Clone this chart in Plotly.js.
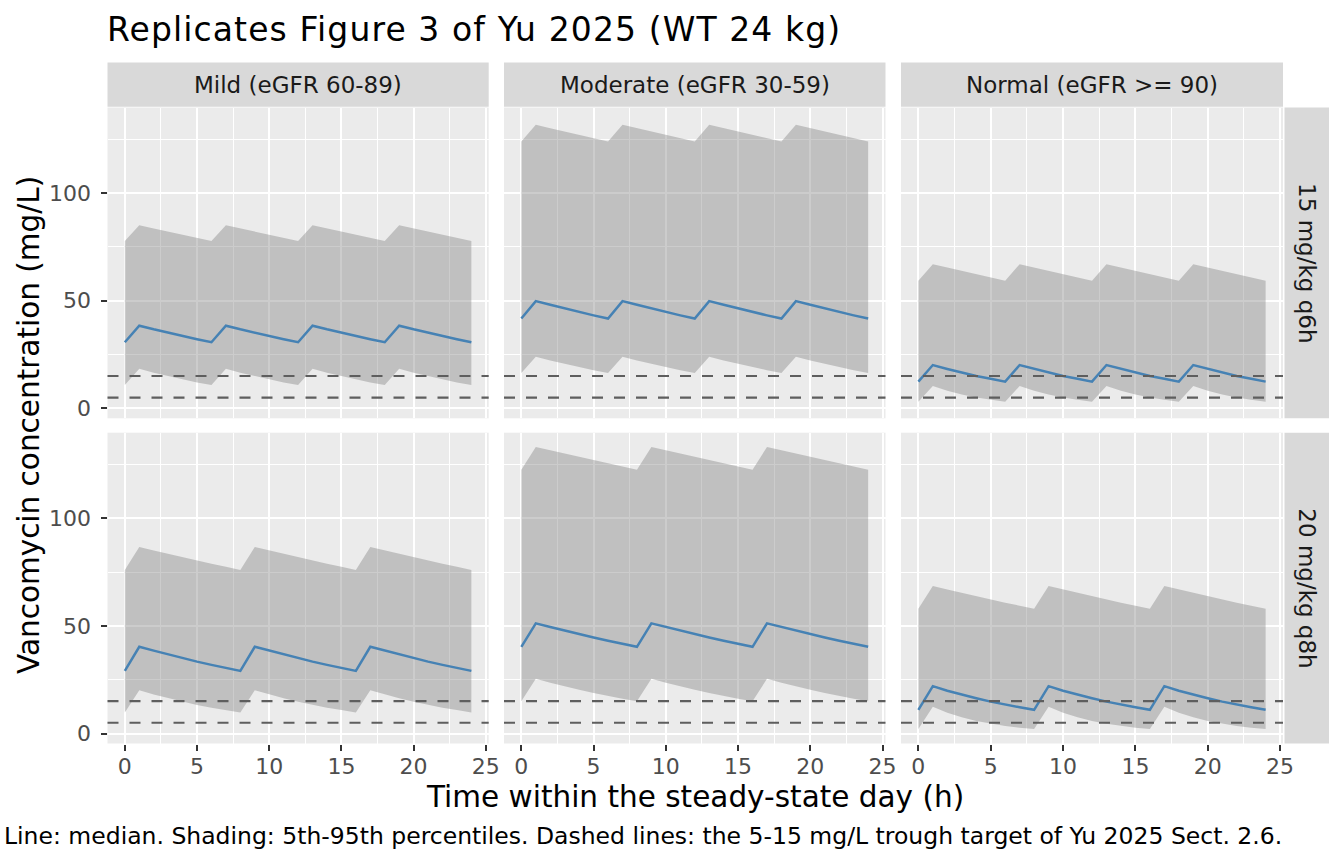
<!DOCTYPE html>
<html>
<head>
<meta charset="utf-8">
<script src="https://cdn.plot.ly/plotly-3.0.1.min.js"></script>
<style>
  html, body { margin: 0; padding: 0; background: #fff; }
  #myDiv { width: 1344px; height: 864px; }
  #myDiv .gtitle { letter-spacing: 1.1px; }
</style>
</head>
<body>
<div id="myDiv"></div>
<script>
// time grid (h)
var timeH = [0, 1, 2, 3, 4, 5, 6, 7, 8, 9, 10, 11, 12, 13, 14, 15, 16, 17, 18, 19, 20, 21, 22, 23, 24];

var renalGroups = ['Mild (eGFR 60-89)', 'Moderate (eGFR 30-59)', 'Normal (eGFR >= 90)'];
var regimens = ['15 mg/kg q6h', '20 mg/kg q8h'];
var troughTarget = [5, 15];

// 15 mg/kg q6h
var mildQ6Med = [30.7, 38.4, 36.7, 35.1, 33.6, 32.1, 30.7, 38.4, 36.7, 35.1, 33.6, 32.1, 30.7, 38.4, 36.7, 35.1, 33.6, 32.1, 30.7, 38.4, 36.7, 35.1, 33.6, 32.1, 30.7];
var mildQ6Hi = [77.7, 85.1, 83.6, 82.1, 80.6, 79.2, 77.7, 85.1, 83.6, 82.1, 80.6, 79.2, 77.7, 85.1, 83.6, 82.1, 80.6, 79.2, 77.7, 85.1, 83.6, 82.1, 80.6, 79.2, 77.7];
var mildQ6Lo = [10.8, 18.4, 16.5, 14.9, 13.4, 12.0, 10.8, 18.4, 16.5, 14.9, 13.4, 12.0, 10.8, 18.4, 16.5, 14.9, 13.4, 12.0, 10.8, 18.4, 16.5, 14.9, 13.4, 12.0, 10.8];

var modQ6Med = [41.7, 49.8, 48.1, 46.4, 44.8, 43.2, 41.7, 49.8, 48.1, 46.4, 44.8, 43.2, 41.7, 49.8, 48.1, 46.4, 44.8, 43.2, 41.7, 49.8, 48.1, 46.4, 44.8, 43.2, 41.7];
var modQ6Hi = [124.0, 131.8, 130.2, 128.6, 127.0, 125.5, 124.0, 131.8, 130.2, 128.6, 127.0, 125.5, 124.0, 131.8, 130.2, 128.6, 127.0, 125.5, 124.0, 131.8, 130.2, 128.6, 127.0, 125.5, 124.0];
var modQ6Lo = [16.4, 23.9, 22.2, 20.6, 19.1, 17.7, 16.4, 23.9, 22.2, 20.6, 19.1, 17.7, 16.4, 23.9, 22.2, 20.6, 19.1, 17.7, 16.4, 23.9, 22.2, 20.6, 19.1, 17.7, 16.4];

var normQ6Med = [12.4, 20.1, 18.3, 16.6, 15.0, 13.7, 12.4, 20.1, 18.3, 16.6, 15.0, 13.7, 12.4, 20.1, 18.3, 16.6, 15.0, 13.7, 12.4, 20.1, 18.3, 16.6, 15.0, 13.7, 12.4];
var normQ6Hi = [59.3, 67.0, 65.4, 63.8, 62.3, 60.8, 59.3, 67.0, 65.4, 63.8, 62.3, 60.8, 59.3, 67.0, 65.4, 63.8, 62.3, 60.8, 59.3, 67.0, 65.4, 63.8, 62.3, 60.8, 59.3];
var normQ6Lo = [3.1, 10.4, 8.2, 6.4, 5.0, 4.0, 3.1, 10.4, 8.2, 6.4, 5.0, 4.0, 3.1, 10.4, 8.2, 6.4, 5.0, 4.0, 3.1, 10.4, 8.2, 6.4, 5.0, 4.0, 3.1];

// 20 mg/kg q8h
var mildQ8Med = [29.1, 40.3, 38.5, 36.7, 35.0, 33.4, 31.9, 30.5, 29.1, 40.3, 38.5, 36.7, 35.0, 33.4, 31.9, 30.5, 29.1, 40.3, 38.5, 36.7, 35.0, 33.4, 31.9, 30.5, 29.1];
var mildQ8Hi = [76.0, 86.7, 85.1, 83.5, 82.0, 80.4, 78.9, 77.5, 76.0, 86.7, 85.1, 83.5, 82.0, 80.4, 78.9, 77.5, 76.0, 86.7, 85.1, 83.5, 82.0, 80.4, 78.9, 77.5, 76.0];
var mildQ8Lo = [9.8, 20.1, 18.1, 16.4, 14.8, 13.3, 12.0, 10.9, 9.8, 20.1, 18.1, 16.4, 14.8, 13.3, 12.0, 10.9, 9.8, 20.1, 18.1, 16.4, 14.8, 13.3, 12.0, 10.9, 9.8];

var modQ8Med = [40.3, 51.2, 49.5, 47.8, 46.2, 44.6, 43.1, 41.7, 40.3, 51.2, 49.5, 47.8, 46.2, 44.6, 43.1, 41.7, 40.3, 51.2, 49.5, 47.8, 46.2, 44.6, 43.1, 41.7, 40.3];
var modQ8Hi = [122.6, 133.2, 131.6, 130.1, 128.6, 127.1, 125.6, 124.1, 122.6, 133.2, 131.6, 130.1, 128.6, 127.1, 125.6, 124.1, 122.6, 133.2, 131.6, 130.1, 128.6, 127.1, 125.6, 124.1, 122.6];
var modQ8Lo = [15.0, 25.4, 23.6, 21.8, 20.3, 18.8, 17.4, 16.2, 15.0, 25.4, 23.6, 21.8, 20.3, 18.8, 17.4, 16.2, 15.0, 25.4, 23.6, 21.8, 20.3, 18.8, 17.4, 16.2, 15.0];

var normQ8Med = [11.0, 22.0, 19.9, 18.0, 16.4, 14.8, 13.4, 12.2, 11.0, 22.0, 19.9, 18.0, 16.4, 14.8, 13.4, 12.2, 11.0, 22.0, 19.9, 18.0, 16.4, 14.8, 13.4, 12.2, 11.0];
var normQ8Hi = [58.0, 68.5, 66.9, 65.3, 63.8, 62.3, 60.8, 59.4, 58.0, 68.5, 66.9, 65.3, 63.8, 62.3, 60.8, 59.4, 58.0, 68.5, 66.9, 65.3, 63.8, 62.3, 60.8, 59.4, 58.0];
var normQ8Lo = [2.1, 12.4, 9.6, 7.5, 5.8, 4.5, 3.5, 2.7, 2.1, 12.4, 9.6, 7.5, 5.8, 4.5, 3.5, 2.7, 2.1, 12.4, 9.6, 7.5, 5.8, 4.5, 3.5, 2.7, 2.1];

// panels in facet order: row = regimen, col = renal group
var panels = [
    {med: mildQ6Med, hi: mildQ6Hi, lo: mildQ6Lo},
    {med: modQ6Med, hi: modQ6Hi, lo: modQ6Lo},
    {med: normQ6Med, hi: normQ6Hi, lo: normQ6Lo},
    {med: mildQ8Med, hi: mildQ8Hi, lo: mildQ8Lo},
    {med: modQ8Med, hi: modQ8Hi, lo: modQ8Lo},
    {med: normQ8Med, hi: normQ8Hi, lo: normQ8Lo}
];

var W = 1344, H = 864;
var colPx = [[107.5, 488.7], [504, 885.5], [901, 1283]];
var rowPx = [[107.5, 418.3], [432.7, 743.5]];
var font = "DejaVu Sans, sans-serif";

var data = [];
var layout = {
    width: W,
    height: H,
    margin: {l: 0, r: 0, t: 0, b: 0},
    paper_bgcolor: 'white',
    plot_bgcolor: '#EBEBEB',
    showlegend: false,
    font: {family: font, color: '#4D4D4D'},
    title: {
        text: 'Replicates Figure 3 of Yu 2025 (WT 24 kg)',
        x: 107 / W, xanchor: 'left', xref: 'container',
        y: 1 - 29 / H, yanchor: 'middle', yref: 'container',
        font: {family: font, size: 33, color: '#000'}
    },
    shapes: [],
    annotations: []
};

panels.forEach(function (p, i) {
    var r = Math.floor(i / 3), c = i % 3;
    var n = i + 1;
    var xa = 'x' + (n === 1 ? '' : n), ya = 'y' + (n === 1 ? '' : n);

    data.push({x: timeH, y: p.lo, xaxis: xa, yaxis: ya, type: 'scatter', mode: 'lines',
        line: {width: 0}, hoverinfo: 'skip'});
    data.push({x: timeH, y: p.hi, xaxis: xa, yaxis: ya, type: 'scatter', mode: 'lines',
        line: {width: 0}, fill: 'tonexty', fillcolor: 'rgba(127,127,127,0.4)', hoverinfo: 'skip'});
    data.push({x: timeH, y: p.med, xaxis: xa, yaxis: ya, type: 'scatter', mode: 'lines',
        line: {color: '#4682B4', width: 2.5}});

    layout['xaxis' + (n === 1 ? '' : n)] = {
        domain: [colPx[c][0] / W, colPx[c][1] / W],
        anchor: ya,
        range: [-1.2, 25.2],
        tick0: 0, dtick: 5,
        showgrid: true, gridcolor: '#fff', gridwidth: 2,
        minor: {dtick: 2.5, showgrid: true, gridcolor: '#fff', gridwidth: 1},
        zeroline: false,
        showticklabels: r === 1,
        ticks: r === 1 ? 'outside' : '',
        ticklen: 6, tickwidth: 2, tickcolor: '#333333',
        ticklabelstandoff: -3,
        tickfont: {size: 22, color: '#4D4D4D'},
        fixedrange: true
    };
    layout['yaxis' + (n === 1 ? '' : n)] = {
        domain: [1 - rowPx[r][1] / H, 1 - rowPx[r][0] / H],
        anchor: xa,
        range: [-4.65, 139.8],
        tick0: 0, dtick: 50,
        showgrid: true, gridcolor: '#fff', gridwidth: 2,
        minor: {dtick: 25, showgrid: true, gridcolor: '#fff', gridwidth: 1},
        zeroline: false,
        showticklabels: c === 0,
        ticks: c === 0 ? 'outside' : '',
        ticklen: 6, tickwidth: 2, tickcolor: '#333333',
        ticklabelstandoff: 5,
        tickfont: {size: 22, color: '#4D4D4D'},
        fixedrange: true
    };

    // trough target lines
    troughTarget.forEach(function (v) {
        layout.shapes.push({type: 'line', xref: xa + ' domain', yref: ya,
            x0: 0, x1: 1, y0: v, y1: v,
            line: {color: '#5E5E5E', width: 2.2, dash: '11px,11px'}});
    });
});

// column strips
renalGroups.forEach(function (g, c) {
    layout.shapes.push({type: 'rect', xref: 'paper', yref: 'paper', layer: 'below',
        x0: colPx[c][0] / W, x1: colPx[c][1] / W, y0: 1 - 106.8 / H, y1: 1 - 62.5 / H,
        fillcolor: '#D9D9D9', line: {width: 0}});
    layout.annotations.push({text: g, xref: 'paper', yref: 'paper', showarrow: false,
        x: (colPx[c][0] + colPx[c][1]) / 2 / W, y: 1 - 84.6 / H, xanchor: 'center', yanchor: 'middle',
        font: {family: font, size: 23, color: '#1A1A1A'}});
});

// row strips
regimens.forEach(function (g, r) {
    layout.shapes.push({type: 'rect', xref: 'paper', yref: 'paper', layer: 'below',
        x0: 1284.5 / W, x1: 1329 / W, y0: 1 - rowPx[r][1] / H, y1: 1 - rowPx[r][0] / H,
        fillcolor: '#D9D9D9', line: {width: 0}});
    layout.annotations.push({text: g, xref: 'paper', yref: 'paper', showarrow: false,
        x: 1306.8 / W, y: 1 - (rowPx[r][0] + rowPx[r][1]) / 2 / H, xanchor: 'center', yanchor: 'middle',
        textangle: 90,
        font: {family: font, size: 23, color: '#1A1A1A'}});
});

// axis titles and caption
layout.annotations.push({text: 'Time within the steady-state day (h)', xref: 'paper', yref: 'paper',
    showarrow: false, x: 695 / W, y: 1 - 797 / H, xanchor: 'center', yanchor: 'middle',
    font: {family: font, size: 29.5, color: '#000'}});
layout.annotations.push({text: 'Vancomycin concentration (mg/L)', xref: 'paper', yref: 'paper',
    showarrow: false, x: 28.5 / W, y: 1 - 425.5 / H, xanchor: 'center', yanchor: 'middle',
    textangle: -90,
    font: {family: font, size: 29.5, color: '#000'}});
layout.annotations.push({text: 'Line: median. Shading: 5th-95th percentiles. Dashed lines: the 5-15 mg/L trough target of Yu 2025 Sect. 2.6.',
    xref: 'paper', yref: 'paper', showarrow: false, x: 1284 / W, y: 1 - 835.5 / H,
    xanchor: 'right', yanchor: 'middle',
    font: {family: font, size: 23.5, color: '#000'}});

Plotly.newPlot('myDiv', data, layout, {staticPlot: true, displayModeBar: false});
</script>
</body>
</html>
